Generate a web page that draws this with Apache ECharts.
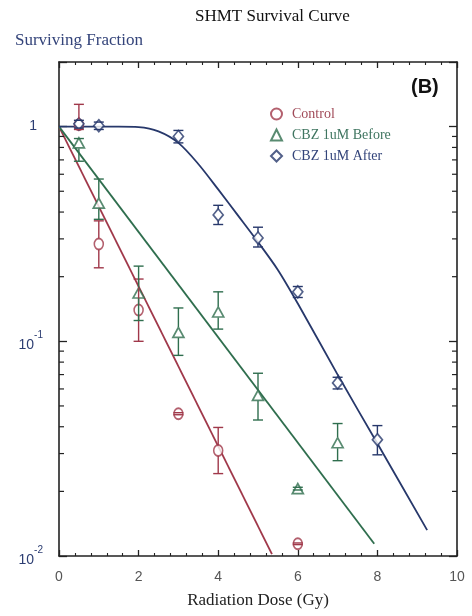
<!DOCTYPE html>
<html><head><meta charset="utf-8">
<script src="https://cdn.jsdelivr.net/npm/echarts@6/dist/echarts.min.js"></script>
<style>html,body{margin:0;padding:0;background:#fff}#c{width:472px;height:616px}</style>
</head><body><div id="c"></div>
<script>
// ---- data ----
const seriesNames = ['Control', 'CBZ 1uM Before', 'CBZ 1uM After'];
// [dose, surviving fraction]
const controlPoints = [[0.5,1.02],[1,0.284],[2,0.14],[3,0.046],[4,0.031],[6,0.0114]];
const beforePoints  = [[0.5,0.84],[1,0.44],[2,0.168],[3,0.110],[4,0.137],[5,0.056],[6,0.0206],[7,0.0337]];
const afterPoints   = [[0.5,1.03],[1,1.01],[3,0.90],[4,0.388],[5,0.303],[6,0.17],[7,0.064],[8,0.0348]];
// error bars [dose, value, low, high]
const controlErr = [[0.5,1.02,0.97,1.27],[1,0.284,0.22,0.364],[2,0.14,0.10,0.195],[3,0.046,0.0455,0.0465],[4,0.031,0.0242,0.0397],[6,0.0114,0.0113,0.0115]];
const beforeErr  = [[0.5,0.84,0.69,0.88],[1,0.44,0.37,0.57],[2,0.168,0.125,0.224],[3,0.110,0.086,0.143],[4,0.137,0.114,0.17],[5,0.056,0.043,0.071],[6,0.0206,0.0203,0.0209],[7,0.0337,0.0278,0.0414]];
const afterErr   = [[0.5,1.03,0.985,1.07],[1,1.01,0.97,1.05],[3,0.90,0.84,0.96],[4,0.388,0.35,0.43],[5,0.303,0.275,0.34],[6,0.17,0.16,0.18],[7,0.064,0.060,0.068],[8,0.0348,0.0296,0.0405]];
// fitted curves
const controlFit = [[0,1],[5.35,0.0102]];
const beforeFit  = [[0,1],[7.92,0.0114]];
const afterFit   = [[0,1.0],[1,1.0],[1.5,1.0],[2,0.995],[2.5,0.95],[3,0.84],[3.5,0.67],[4,0.51],[4.5,0.385],[5,0.29],[5.5,0.215],[6,0.15],[7,0.07],[8,0.0334],[9.25,0.0132]];
// axis ticks
const xTicks = [0,2,4,6,8,10];
const yMinorTicks = [0.02,0.03,0.04,0.05,0.06,0.07,0.08,0.09,0.2,0.3,0.4,0.5,0.6,0.7,0.8,0.9];

// ---- styles ----
const colors = ['#a0384a', '#2f6e4e', '#27386b'];
const textColors = ['#a04a58', '#3f7560', '#33447a'];
const axisColor = '#222';
const yLabColor = '#2c3d72';

function errSeries(data, color) {
  return {
    type: 'custom', data: data, z: 4, silent: true,
    encode: { x: 0, y: [2, 3] },
    renderItem: function (params, api) {
      const x = api.value(0), v = api.value(1), lo = api.value(2), hi = api.value(3);
      const pc = api.coord([x, v]), pl = api.coord([x, lo]), ph = api.coord([x, hi]);
      const w = 5, r = 5.5;
      const st = { stroke: color, lineWidth: 1.4, fill: null };
      const ch = [
        { type: 'line', shape: { x1: pl[0] - w, y1: pl[1], x2: pl[0] + w, y2: pl[1] }, style: st },
        { type: 'line', shape: { x1: ph[0] - w, y1: ph[1], x2: ph[0] + w, y2: ph[1] }, style: st }
      ];
      if (pl[1] > pc[1] + r) ch.push({ type: 'line', shape: { x1: pc[0], y1: pc[1] + r, x2: pl[0], y2: pl[1] }, style: st });
      if (ph[1] < pc[1] - r) ch.push({ type: 'line', shape: { x1: pc[0], y1: pc[1] - r, x2: ph[0], y2: ph[1] }, style: st });
      return { type: 'group', children: ch };
    }
  };
}

const chart = echarts.init(document.getElementById('c'), null, { renderer: 'canvas' });
const xAxisBase = {
  type: 'value', min: 0, max: 10, interval: 2,
  axisLine: { show: true, onZero: false, lineStyle: { color: axisColor, width: 1.6 } },
  axisTick: { show: true, inside: true, length: 6, lineStyle: { color: axisColor, width: 1.3 } },
  minorTick: { show: true, splitNumber: 5, length: 3, lineStyle: { color: axisColor, width: 1.1 } },
  splitLine: { show: false }
};
const yAxisBase = {
  type: 'log', logBase: 10, min: 0.01, max: 2,
  axisLine: { show: true, onZero: false, lineStyle: { color: axisColor, width: 1.6 } },
  axisTick: { show: true, inside: true, length: 8, lineStyle: { color: axisColor, width: 1.3 } },
  splitLine: { show: false }
};

chart.setOption({
  animation: false,
  backgroundColor: '#fff',
  title: [
    { text: 'SHMT Survival Curve', left: 195, top: 8, padding: 0,
      textStyle: { fontFamily: 'Liberation Serif', fontSize: 17, fontWeight: 'normal', color: '#111' } },
    { text: 'Surviving Fraction', left: 15, top: 32, padding: 0,
      textStyle: { fontFamily: 'Liberation Serif', fontSize: 17, fontWeight: 'normal', color: '#34447a' } },
    { text: '(B)', left: 411, top: 77, padding: 0,
      textStyle: { fontFamily: 'Liberation Sans', fontSize: 20, fontWeight: 'bold', color: '#111' } }
  ],
  grid: { left: 59, right: 15, top: 62, bottom: 60 },
  legend: {
    orient: 'vertical', left: 265, top: 102, itemGap: 7, itemWidth: 11, itemHeight: 11,
    data: seriesNames.map((n, i) => ({ name: n, textStyle: { color: textColors[i] } })),
    textStyle: { fontFamily: 'Liberation Serif', fontSize: 14, padding: [0, 0, 0, 5] },
    selectedMode: false
  },
  xAxis: [
    Object.assign({}, xAxisBase, {
      position: 'bottom',
      axisLabel: { color: '#555', fontFamily: 'Liberation Sans', fontSize: 14, margin: 14,
        formatter: v => xTicks.indexOf(v) >= 0 ? String(v) : '' },
      name: 'Radiation Dose (Gy)', nameLocation: 'middle', nameGap: 36,
      nameTextStyle: { fontFamily: 'Liberation Serif', fontSize: 17, color: '#222' }
    }),
    Object.assign({}, xAxisBase, { position: 'top', axisLabel: { show: false } })
  ],
  yAxis: [
    Object.assign({}, yAxisBase, {
      position: 'left',
      axisLabel: {
        margin: 16,
        formatter: function (v) {
          const e = Math.log10(v), r = Math.round(e);
          if (Math.abs(e - r) > 1e-6) return '';
          if (r === 0) return '{o|1}';
          return '{b|10}{s|' + r + '}';
        },
        rich: {
          o: { fontFamily: 'Liberation Sans', fontSize: 14, color: yLabColor, padding: [0, 6, 0, 0] },
          b: { fontFamily: 'Liberation Sans', fontSize: 14, color: yLabColor, verticalAlign: 'bottom', lineHeight: 22 },
          s: { fontFamily: 'Liberation Sans', fontSize: 10, color: yLabColor, verticalAlign: 'top', lineHeight: 22 }
        }
      }
    }),
    Object.assign({}, yAxisBase, { position: 'right', axisLabel: { show: false } })
  ],
  series: [
    { name: seriesNames[0], type: 'scatter', data: controlPoints, symbol: 'circle', symbolSize: [9, 11], z: 3,
      itemStyle: { color: '#fff', borderColor: colors[0], borderWidth: 1.7 } },
    { name: seriesNames[1], type: 'scatter', data: beforePoints, symbol: 'triangle', symbolSize: [11, 10], z: 3,
      itemStyle: { color: '#fff', borderColor: colors[1], borderWidth: 1.7 } },
    { name: seriesNames[2], type: 'scatter', data: afterPoints, symbol: 'diamond', symbolSize: [10, 12], z: 3,
      itemStyle: { color: '#fff', borderColor: colors[2], borderWidth: 1.7 } },
    errSeries(controlErr, colors[0]),
    errSeries(beforeErr, colors[1]),
    errSeries(afterErr, colors[2]),
    { name: 'fit0', type: 'line', data: controlFit, symbol: 'none', z: 2, lineStyle: { color: colors[0], width: 1.8 } },
    { name: 'fit1', type: 'line', data: beforeFit, symbol: 'none', z: 2, lineStyle: { color: colors[1], width: 1.8 } },
    { name: 'fit2', type: 'line', data: afterFit, symbol: 'none', smooth: 0.3, z: 2, lineStyle: { color: colors[2], width: 1.8 } },
    { type: 'custom', data: yMinorTicks.map(v => [0, v]), silent: true, z: 5,
      encode: { x: 0, y: 1 },
      renderItem: function (params, api) {
        const v = api.value(1);
        const pl = api.coord([0, v]), pr = api.coord([10, v]);
        const st = { stroke: axisColor, lineWidth: 1.2 };
        return { type: 'group', children: [
          { type: 'line', shape: { x1: pl[0], y1: pl[1], x2: pl[0] + 5, y2: pl[1] }, style: st },
          { type: 'line', shape: { x1: pr[0], y1: pr[1], x2: pr[0] - 5, y2: pr[1] }, style: st }
        ] };
      } }
  ]
});
</script></body></html>
